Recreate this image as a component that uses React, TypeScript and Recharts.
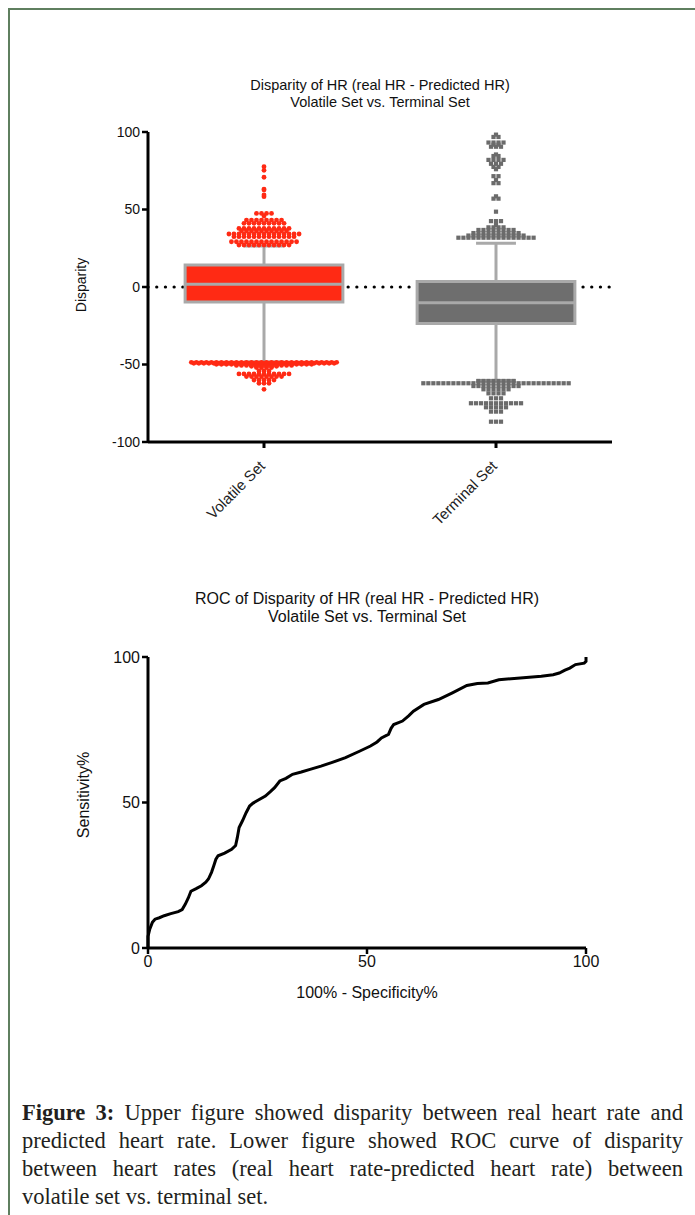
import React from 'react';
import {
  ComposedChart,
  Scatter,
  XAxis,
  YAxis,
  ReferenceArea,
  ReferenceLine,
  LineChart,
  Line,
} from 'recharts';

// ---------- Upper chart data ----------
const categories = ['Volatile Set', 'Terminal Set'];
const categoryPositions = [0.5, 1.5];
const disparityTicks = [-100, -50, 0, 50, 100];

// [whiskerLow, q1, median, q3, whiskerHigh]
const volatileBox = [-48.4, -9.7, 1.7, 14.2, 26.5];
const terminalBox = [-60.3, -23.5, -10.1, 3.5, 28.2];

// outlier rows: [disparity value, number of points at that value]
const volatileOutlierRows: [number, number][] = [
  [77.6, 1], [75.3, 1], [70.8, 1], [63.2, 1], [62.6, 1], [59.4, 1], [58.3, 1],
  [47.5, 4], [45.8, 1], [43.2, 8], [41.1, 9], [37.8, 11], [36.3, 10],
  [34.2, 15], [32.5, 13], [29.2, 14], [27.1, 11],
  [-48.6, 30], [-49.2, 29], [-49.9, 20], [-50.6, 12], [-51.2, 6],
  [-52.0, 4], [-54.2, 3], [-56.1, 11], [-57.8, 8], [-60.0, 5], [-62.1, 3], [-66.0, 1],
];

const terminalOutlierRows: [number, number][] = [
  [98.3, 1], [96.8, 2], [93.2, 4], [91.8, 2], [90.5, 3], [85.5, 1], [84.5, 2],
  [82.0, 4], [79.5, 3], [77.5, 2], [76.0, 1], [71.5, 2], [69.0, 1], [67.0, 2],
  [58.5, 1], [57.0, 2], [48.6, 1], [42.5, 3], [40.0, 1],
  [38.5, 4], [36.8, 8], [34.8, 10], [33.2, 12], [31.8, 16],
  [-60.6, 8], [-62.1, 30], [-63.9, 10], [-66.0, 6], [-68.6, 4], [-71.8, 3],
  [-75.0, 11], [-77.6, 5], [-80.4, 3], [-86.9, 3],
];

// ---------- Lower chart (ROC) data ----------
const rocFpr = [
  0, 0, 0.4, 1.0, 1.6, 2.6, 3.7, 5.2, 6.9, 7.8, 8.5, 9.2, 9.8, 11.0, 12.2, 13.2,
  13.8, 14.5, 15.0, 15.5, 16.0, 17.5, 19.1, 20.0, 20.4, 20.8, 21.6, 22.4, 23.2,
  24.0, 24.8, 26.8, 28.0, 28.9, 30.1, 31.5, 33.0, 35.0, 37.0, 39.5, 41.9, 45.1,
  48.4, 50.8, 52.3, 53.3, 54.9, 55.5, 56.1, 58.1, 59.5, 60.6, 63.0, 66.3, 69.5,
  72.8, 75.2, 77.6, 80.1, 85.0, 89.8, 92.5, 93.9, 95.2, 96.3, 97.6, 99.6, 100, 100,
];
const rocTpr = [
  0, 4, 6.5, 8.8, 9.9, 10.4, 11.1, 11.8, 12.5, 13.2, 15.0, 17.2, 19.5, 20.4, 21.4, 22.6,
  23.7, 26.0, 28.2, 30.5, 31.7, 32.6, 33.9, 35.2, 38.0, 41.4, 43.8, 46.5, 48.8,
  49.8, 50.5, 52.2, 53.8, 55.1, 57.4, 58.3, 59.7, 60.5, 61.4, 62.5, 63.7, 65.4,
  67.7, 69.4, 70.8, 72.2, 73.4, 75.5, 76.8, 78.0, 79.8, 81.4, 83.7, 85.4, 87.7,
  90.2, 90.9, 91.1, 92.2, 92.8, 93.4, 93.9, 94.5, 95.5, 96.2, 97.4, 97.9, 98.5, 100,
];
const rocTicks = [0, 50, 100];

// ---------- layout helpers ----------
const SWARM_STEP = 0.0216; // horizontal gap between neighbouring points (x units)
const BOX_HALF = 0.34;
const CAP_HALF = 0.086;

function swarm(rows: [number, number][], center: number) {
  const pts: { x: number; y: number }[] = [];
  rows.forEach(([v, n]) => {
    for (let j = 0; j < n; j++) pts.push({ x: center + (j - (n - 1) / 2) * SWARM_STEP, y: v });
  });
  return pts;
}

const volatilePoints = swarm(volatileOutlierRows, categoryPositions[0]);
const terminalPoints = swarm(terminalOutlierRows, categoryPositions[1]);
const rocData = rocFpr.map((f, i) => ({ fpr: f, tpr: rocTpr[i] }));

const SANS = '"Liberation Sans", Arial, Helvetica, sans-serif';
const RED = '#ff2a14';
const DARK = '#6e6e6e';
const BOXLINE = '#a9a9a9';

const RedDot = (p: any) => <circle cx={p.cx} cy={p.cy} r={2.4} fill={RED} />;
const GreySquare = (p: any) => (
  <rect x={p.cx - 2.1} y={p.cy - 2.1} width={4.2} height={4.2} fill="#6b6b6b" />
);

const CategoryTick = (p: any) => {
  const { x, y, payload } = p;
  const idx = categoryPositions.indexOf(payload.value);
  const tx = x + 2;
  const ty = y + 17;
  return (
    <text
      x={tx}
      y={ty}
      transform={`rotate(-45 ${tx} ${ty})`}
      textAnchor="end"
      fontFamily={SANS}
      fontSize={15}
      fill="#222"
    >
      {categories[idx]}
    </text>
  );
};

function BoxParts(box: number[], center: number, fill: string, z: number) {
  const [lo, q1, med, q3, hi] = box;
  return [
    <ReferenceLine
      key={`wl${center}`}
      segment={[{ x: center, y: lo }, { x: center, y: q1 }]}
      stroke={BOXLINE}
      strokeWidth={3}
      zIndex={z}
    />,
    <ReferenceLine
      key={`wh${center}`}
      segment={[{ x: center, y: q3 }, { x: center, y: hi }]}
      stroke={BOXLINE}
      strokeWidth={3}
      zIndex={z}
    />,
    <ReferenceLine
      key={`cl${center}`}
      segment={[{ x: center - CAP_HALF, y: lo }, { x: center + CAP_HALF, y: lo }]}
      stroke={BOXLINE}
      strokeWidth={3}
      zIndex={z}
    />,
    <ReferenceLine
      key={`ch${center}`}
      segment={[{ x: center - CAP_HALF, y: hi }, { x: center + CAP_HALF, y: hi }]}
      stroke={BOXLINE}
      strokeWidth={3}
      zIndex={z}
    />,
    <ReferenceArea
      key={`b${center}`}
      x1={center - BOX_HALF}
      x2={center + BOX_HALF}
      y1={q1}
      y2={q3}
      fill={fill}
      fillOpacity={1}
      stroke={BOXLINE}
      strokeWidth={3}
      zIndex={z + 1}
    />,
    <ReferenceLine
      key={`m${center}`}
      segment={[{ x: center - BOX_HALF, y: med }, { x: center + BOX_HALF, y: med }]}
      stroke={BOXLINE}
      strokeWidth={3}
      zIndex={z + 2}
    />,
  ];
}

const abs = (s: React.CSSProperties): React.CSSProperties => ({ position: 'absolute', ...s });

export default function App() {
  const justify: React.CSSProperties = { textAlign: 'justify', textAlignLast: 'justify' as any, whiteSpace: 'nowrap' };
  return (
    <div style={abs({ left: 0, top: 0, width: 695, height: 1215, overflow: 'hidden', background: '#fff' })}>
      <div
        style={abs({
          left: 8,
          top: 8,
          width: 900,
          height: 1400,
          borderLeft: '2px solid #5f7f5f',
          borderTop: '2px solid #5f7f5f',
        })}
      />

      {/* Upper chart titles */}
      <div style={abs({ left: 180, width: 400, top: 77, textAlign: 'center', fontFamily: SANS, fontSize: 14.5, lineHeight: '16.5px', color: '#111' })}>
        <div>Disparity of HR (real HR - Predicted HR)</div>
        <div>Volatile Set vs. Terminal Set</div>
      </div>
      <div style={abs({ left: 80.5, top: 285, transform: 'translate(-50%, -50%) rotate(-90deg)', fontFamily: SANS, fontSize: 14, color: '#111', whiteSpace: 'nowrap' })}>
        Disparity
      </div>

      <div style={abs({ left: 0, top: 0 })}>
        <ComposedChart width={695} height={560} margin={{ top: 132, right: 83, bottom: 88, left: 88 }}>
          <XAxis
            type="number"
            dataKey="x"
            domain={[0, 2]}
            ticks={categoryPositions}
            allowDataOverflow
            height={30}
            axisLine={{ stroke: '#000', strokeWidth: 3 }}
            tickLine={{ stroke: '#000', strokeWidth: 3 }}
            tickSize={6}
            tick={<CategoryTick />}
            interval={0}
          />
          <YAxis
            type="number"
            dataKey="y"
            domain={[-100, 100]}
            ticks={disparityTicks}
            allowDataOverflow
            width={60}
            axisLine={{ stroke: '#000', strokeWidth: 3 }}
            tickLine={{ stroke: '#000', strokeWidth: 2.5 }}
            tickSize={6}
            tick={{ fontFamily: SANS, fontSize: 14, fill: '#111' }}
            interval={0}
          />
          <ReferenceLine
            y={0}
            stroke="#000"
            strokeWidth={3.2}
            strokeDasharray="0.1 8.6"
            strokeLinecap="round"
            zIndex={101}
          />
          {BoxParts(volatileBox, categoryPositions[0], RED, 102)}
          {BoxParts(terminalBox, categoryPositions[1], DARK, 102)}
          <Scatter data={volatilePoints} shape={RedDot} isAnimationActive={false} zIndex={610} />
          <Scatter data={terminalPoints} shape={GreySquare} isAnimationActive={false} zIndex={610} />
        </ComposedChart>
      </div>

      {/* Lower chart titles */}
      <div style={abs({ left: 167, width: 400, top: 590, textAlign: 'center', fontFamily: SANS, fontSize: 16, lineHeight: '18px', color: '#111' })}>
        <div>ROC of Disparity of HR (real HR - Predicted HR)</div>
        <div>Volatile Set vs. Terminal Set</div>
      </div>
      <div style={abs({ left: 84, top: 795, transform: 'translate(-50%, -50%) rotate(-90deg)', fontFamily: SANS, fontSize: 16, color: '#111', whiteSpace: 'nowrap' })}>
        Sensitivity%
      </div>
      <div style={abs({ left: 367, top: 993, transform: 'translate(-50%, -50%)', fontFamily: SANS, fontSize: 16, color: '#111', whiteSpace: 'nowrap' })}>
        100% - Specificity%
      </div>

      <div style={abs({ left: 0, top: 560 })}>
        <LineChart width={695} height={480} data={rocData} margin={{ top: 97, right: 109, bottom: 62, left: 88 }}>
          <XAxis
            type="number"
            dataKey="fpr"
            domain={[0, 100]}
            ticks={rocTicks}
            height={30}
            axisLine={{ stroke: '#000', strokeWidth: 3 }}
            tickLine={{ stroke: '#000', strokeWidth: 2.5 }}
            tickSize={6}
            tick={{ fontFamily: SANS, fontSize: 16, fill: '#111' }}
            interval={0}
          />
          <YAxis
            type="number"
            domain={[0, 100]}
            ticks={rocTicks}
            width={60}
            axisLine={{ stroke: '#000', strokeWidth: 3 }}
            tickLine={{ stroke: '#000', strokeWidth: 2.5 }}
            tickSize={6}
            tick={{ fontFamily: SANS, fontSize: 16, fill: '#111' }}
            interval={0}
          />
          <Line
            type="linear"
            dataKey="tpr"
            stroke="#000"
            strokeWidth={3}
            dot={false}
            isAnimationActive={false}
          />
        </LineChart>
      </div>

      {/* Caption */}
      <div style={abs({ left: 22, top: 1099, width: 661, fontFamily: '"Liberation Serif", "Times New Roman", serif', fontSize: 22.5, lineHeight: '28px', color: '#231f20' })}>
        <div style={justify}>
          <b>Figure 3:</b> Upper figure showed disparity between real heart rate and
        </div>
        <div style={justify}>predicted heart rate. Lower figure showed ROC curve of disparity</div>
        <div style={justify}>between heart rates (real heart rate-predicted heart rate) between</div>
        <div>volatile set vs. terminal set.</div>
      </div>
    </div>
  );
}
